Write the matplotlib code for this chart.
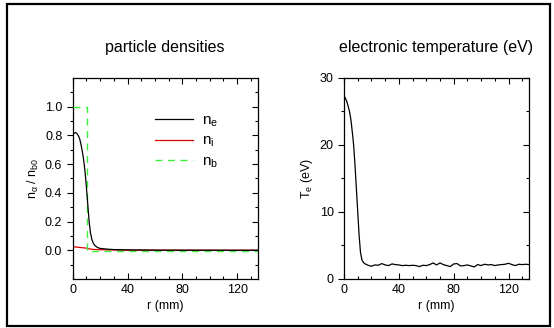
import numpy as np
import matplotlib
matplotlib.use("Agg")
import matplotlib.pyplot as plt
import matplotlib.ticker as mticker
from matplotlib.patches import Rectangle

plt.rcParams['font.family'] = ['Liberation Sans', 'DejaVu Sans']
plt.rcParams['mathtext.fontset'] = 'custom'
plt.rcParams['mathtext.rm'] = 'Liberation Sans'
plt.rcParams['mathtext.it'] = 'Liberation Sans:italic'

# particle densities (normalised to n_b0)
r_ne = [0, 1, 2, 3, 4, 5, 6, 7, 8, 9, 10, 11, 12, 13, 14, 15, 16, 18, 20, 25, 30, 40, 50, 60, 80, 135]
ne = [0.80, 0.815, 0.82, 0.815, 0.80, 0.78, 0.74, 0.69, 0.63, 0.55, 0.44, 0.32, 0.20, 0.12, 0.075,
      0.05, 0.035, 0.02, 0.013, 0.008, 0.005, 0.003, 0.002, 0.001, 0.0005, 0.0]
r_ni = [0, 5, 10, 12, 15, 20, 30, 40, 60, 135]
ni = [0.025, 0.02, 0.015, 0.01, 0.006, 0.004, 0.002, 0.001, 0.0005, 0.0]
r_nb = [0, 10.5, 10.5, 135]
nb = [1.0, 1.0, -0.005, -0.005]

# electron temperature (eV)
r_te = [0, 1, 2, 3, 4, 5, 6, 7, 8, 9, 10, 11, 12, 13, 14, 15, 16, 17.5, 20,
        22.5, 25, 27.5, 30, 32.5, 35, 37.5, 40, 42.5, 45, 47.5, 50, 52.5, 55, 57.5, 60,
        62.5, 65, 67.5, 70, 72.5, 75, 77.5, 80, 82.5, 85, 87.5, 90, 92.5, 95, 97.5, 100,
        102.5, 105, 107.5, 110, 112.5, 115, 117.5, 120, 122.5, 125, 127.5, 130, 132.5, 135]
te = [27.3, 27.0, 26.5, 25.8, 25.0, 23.8, 22.0, 20.0, 17.0, 13.5, 10.0, 6.5, 4.0, 2.9, 2.5,
      2.3, 2.2, 2.05, 1.9,
      2.1, 2.05, 2.3, 2.1, 2.0, 2.25, 2.15, 2.1, 2.0, 2.05, 2.0, 2.05, 2.0, 1.85, 2.05, 2.0,
      2.15, 2.4, 2.1, 2.4, 2.15, 2.0, 1.85, 2.25, 2.3, 1.95, 2.0, 2.1, 1.95, 1.8, 2.15, 2.0,
      2.2, 2.1, 2.15, 2.0, 2.1, 2.15, 2.2, 2.35, 2.15, 2.0, 2.2, 2.15, 2.2, 2.15]

fig = plt.figure(figsize=(5.54, 3.28), dpi=100)
ax1 = fig.add_axes([0.1312, 0.1494, 0.334, 0.6128])
ax2 = fig.add_axes([0.621, 0.1494, 0.334, 0.6128])


def style(ax, ylim, major, minor):
    ax.set_xlim(0, 135)
    ax.set_ylim(*ylim)
    ax.xaxis.set_major_locator(mticker.MultipleLocator(40))
    ax.xaxis.set_minor_locator(mticker.MultipleLocator(10))
    ax.yaxis.set_major_locator(mticker.FixedLocator(major))
    ax.yaxis.set_minor_locator(mticker.FixedLocator(minor))
    ax.tick_params(axis='x', which='both', direction='in', top=True, labelsize=9)
    ax.tick_params(axis='x', which='major', length=4, width=0.8)
    ax.tick_params(axis='x', which='minor', length=2.5, width=0.8)
    ax.tick_params(axis='y', which='both', direction='out', labelsize=9)
    ax.tick_params(axis='y', which='major', length=4, width=0.8)
    ax.tick_params(axis='y', which='minor', length=2.5, width=0.8)
    for s in ax.spines.values():
        s.set_linewidth(0.9)
    tw = ax.twinx()
    tw.set_ylim(*ylim)
    tw.yaxis.set_major_locator(mticker.FixedLocator(major))
    tw.yaxis.set_minor_locator(mticker.FixedLocator(minor))
    tw.tick_params(axis='y', which='both', direction='in', labelright=False)
    tw.tick_params(axis='y', which='major', length=4, width=0.8)
    tw.tick_params(axis='y', which='minor', length=2.5, width=0.8)
    for s in tw.spines.values():
        s.set_visible(False)


style(ax1, (-0.2, 1.2), [0, 0.2, 0.4, 0.6, 0.8, 1.0],
      [-0.1, 0.1, 0.3, 0.5, 0.7, 0.9, 1.1])
ax1.yaxis.set_major_formatter(mticker.FormatStrFormatter('%.1f'))
ax1.plot(r_ni, ni, color='#e00000', lw=0.9, label=r'$\mathregular{n_i}$', zorder=2)
ax1.plot(r_nb, nb, color='#3df03d', lw=1.0, ls=(0, (5, 4)), label=r'$\mathregular{n_b}$', zorder=3)
ax1.plot(r_ne, ne, color='black', lw=0.9, label=r'$\mathregular{n_e}$', zorder=4)
h, l = ax1.get_legend_handles_labels()
order = [2, 0, 1]
ax1.legend([h[i] for i in order], [l[i] for i in order], loc='upper left',
           bbox_to_anchor=(0.445, 0.825), frameon=False, fontsize=11,
           handlelength=2.5, handletextpad=0.55, borderpad=0, borderaxespad=0,
           labelspacing=0.35)
ax1.set_xlabel('r (mm)', fontsize=9, labelpad=3)
ax1.set_ylabel(r'$\mathregular{n_\alpha\ /\ n_{b0}}$', fontsize=9, labelpad=3)
ax1.set_title('particle densities', fontsize=11.5, pad=19)

style(ax2, (0, 30), [0, 10, 20, 30], [5, 15, 25])
ax2.plot(r_te, te, color='black', lw=0.9)
ax2.set_xlabel('r (mm)', fontsize=9, labelpad=3)
ax2.set_ylabel(r'$\mathregular{T_e}$ (eV)', fontsize=9, labelpad=3)
ax2.set_title('electronic temperature (eV)', fontsize=11.5, pad=19)

fig.patches.append(Rectangle((7 / 554, 2 / 328), 543 / 554, 322 / 328,
                             transform=fig.transFigure, fill=False,
                             edgecolor='black', linewidth=1.6))

fig.savefig('out.png', dpi=100)
